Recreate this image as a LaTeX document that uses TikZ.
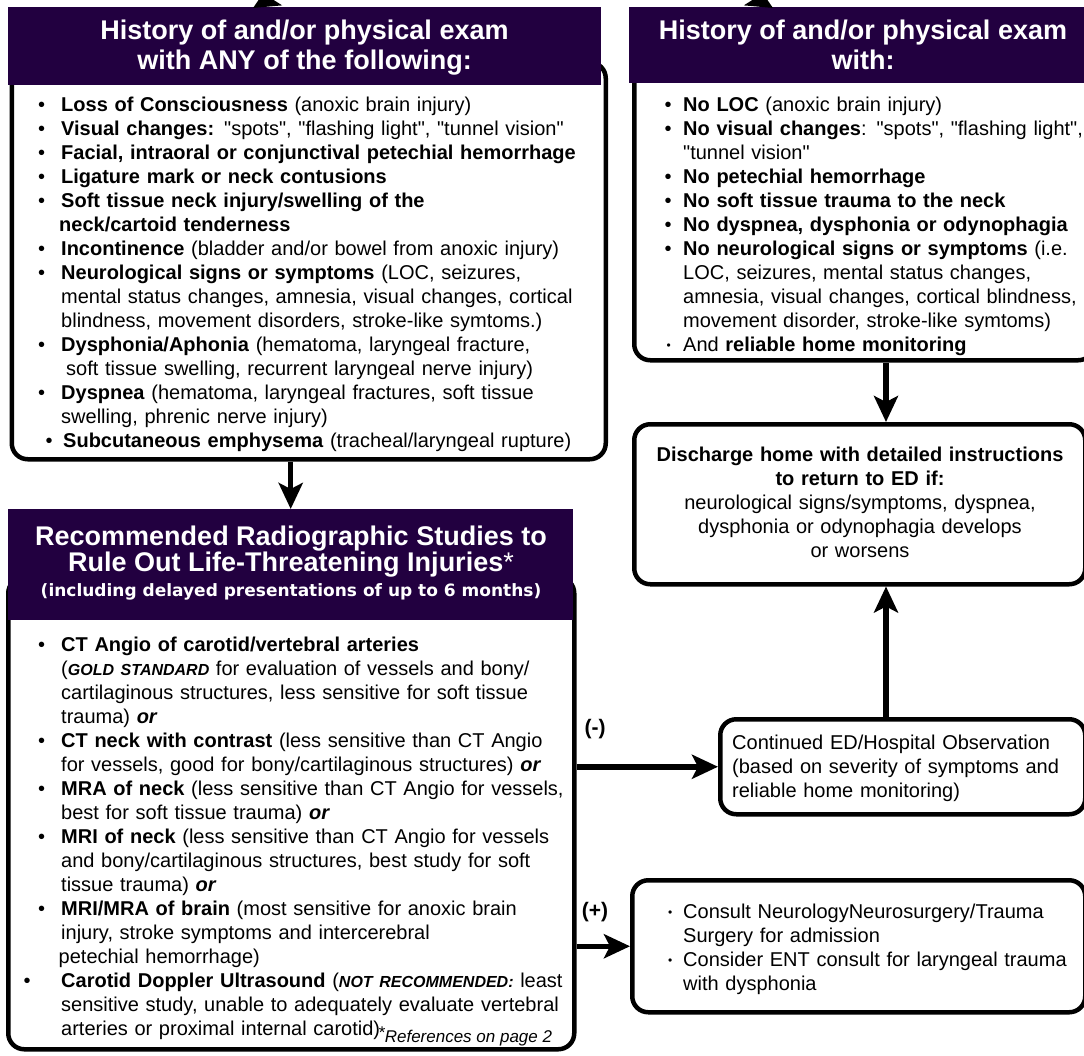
\documentclass[tikz,border=0pt]{standalone}
\usepackage{fontspec}
\setmainfont{Liberation Sans}[Ligatures=TeXOff]
\newfontfamily\dejavu{DejaVu Sans}
\usetikzlibrary{arrows.meta}
\definecolor{hdr}{RGB}{34,0,64}
\newcommand\bu{\makebox[23pt][l]{•}}
\newcommand\ci{\hspace*{23pt}}
\newcommand\bur{\makebox[18.5pt][l]{•}}
\newcommand\cir{\hspace*{18.5pt}}
\newcommand\sbu{\makebox[18pt][l]{\hspace*{3pt}\raisebox{1.5pt}{\fontsize{12}{12}\selectfont •}}}
\newcommand\emi[1]{\textbf{\textit{\fontsize{16}{24}\selectfont #1}}}
\tikzset{
  boxline/.style={draw=black, line width=4.5pt, fill=white, rounded corners=16pt, inner sep=0pt, anchor=north west},
  hdrbox/.style={fill=hdr, draw=none, inner sep=0pt, anchor=north west},
  conn/.style={line width=5.5pt, -{Stealth[length=26pt,width=24pt,inset=6pt]}},
  bodytext/.style={inner sep=0pt, anchor=north west, align=left, font=\fontsize{20}{24}\selectfont, text width=#1},
  hdrtext/.style={text=white, inner sep=0pt, anchor=base, font=\bfseries\fontsize{27}{30}\selectfont},
  lbl/.style={inner sep=0pt, font=\bfseries\fontsize{21}{24}\selectfont},
}
\begin{document}
\begin{tikzpicture}[x=1pt,y=-1pt]
\useasboundingbox (0,0) rectangle (1084,1055);
\clip (0,0) rectangle (1084,1055);
% boxes
\node[boxline, minimum width=594pt, minimum height=397pt] (tlbox) at (9.5,60) {};
\node[boxline, minimum width=460pt, minimum height=298pt] (trbox) at (632,60) {};
\node[boxline, minimum width=566pt, minimum height=472pt] (blbox) at (6,575) {};
\node[boxline, minimum width=451pt, minimum height=160pt] (dis) at (632,422) {};
\node[boxline, minimum width=365pt, minimum height=95pt] (obs) at (718,717) {};
\node[boxline, minimum width=453pt, minimum height=132pt] (cons) at (630,878) {};
% headers
\node[hdrbox, minimum width=593pt, minimum height=78pt] (tlhead) at (8,7) {};
\node[hdrbox, minimum width=470pt, minimum height=76pt] (trhead) at (629,7) {};
\node[hdrbox, minimum width=565pt, minimum height=111pt] (blhead) at (8,509) {};
\node[hdrtext] (tlh1) at (304.5,39) {History of and/or physical exam};
\node[hdrtext] (tlh2) at (304.5,69) {with ANY of the following:};
\node[hdrtext] (trh1) at (863,39) {History of and/or physical exam};
\node[hdrtext] (trh2) at (863,69) {with:};
\node[hdrtext] (blh1) at (291,545) {Recommended Radiographic Studies to};
\node[hdrtext] (blh2) at (291,571) {Rule Out Life-Threatening Injuries{\mdseries*}};
\node[hdrtext, font=\dejavu\bfseries\fontsize{17}{20}\selectfont] (blh3) at (291,596) {(including delayed presentations of up to 6 months)};
% body texts
\node[bodytext=560pt] (tltext) at (38,94.2) {\strut\bu\textbf{Loss of Consciousness} (anoxic brain injury)\\
\bu\textbf{Visual changes:} "spots", "flashing light", "tunnel vision"\\
\bu\textbf{Facial, intraoral or conjunctival petechial hemorrhage}\\
\bu\textbf{Ligature mark or neck contusions}\\
\bu\textbf{Soft tissue neck injury/swelling of the}\\
\hspace*{21pt}\textbf{neck/cartoid tenderness}\\
\bu\textbf{Incontinence} (bladder and/or bowel from anoxic injury)\\
\bu\textbf{Neurological signs or symptoms} (LOC, seizures,\\
\ci mental status changes, amnesia, visual changes, cortical\\
\ci blindness, movement disorders, stroke-like symtoms.)\\
\bu\textbf{Dysphonia/Aphonia} (hematoma, laryngeal fracture,\\
\hspace*{28pt}soft tissue swelling, recurrent laryngeal nerve injury)\\
\bu\textbf{Dyspnea} (hematoma, laryngeal fractures, soft tissue\\
\ci swelling, phrenic nerve injury)\\
\hspace*{7.5pt}\makebox[17.5pt][l]{•}\textbf{Subcutaneous emphysema} (tracheal/laryngeal rupture)};
\node[bodytext=440pt] (trtext) at (664.5,94.2) {\strut\bur\textbf{No LOC} (anoxic brain injury)\\
\bur\textbf{No visual changes}: "spots", "flashing light",\\
\cir"tunnel vision"\\
\bur\textbf{No petechial hemorrhage}\\
\bur\textbf{No soft tissue trauma to the neck}\\
\bur\textbf{No dyspnea, dysphonia or odynophagia}\\
\bur\textbf{No neurological signs or symptoms} (i.e.\\
\cir LOC, seizures, mental status changes,\\
\cir amnesia, visual changes, cortical blindness,\\
\cir movement disorder, stroke-like symtoms)\\
\makebox[18.5pt][l]{\hspace*{2pt}\raisebox{1.5pt}{\fontsize{12}{12}\selectfont •}}And \textbf{reliable home monitoring}};
\node[bodytext=530pt] (bltext) at (38,634.2) {\strut\bu\textbf{CT Angio of carotid/vertebral arteries}\\
\ci(\emi{GOLD STANDARD} for evaluation of vessels and bony/\\
\ci cartilaginous structures, less sensitive for soft tissue\\
\ci trauma) \textbf{\textit{or}}\\
\bu\textbf{CT neck with contrast} (less sensitive than CT Angio\\
\ci for vessels, good for bony/cartilaginous structures) \textbf{\textit{or}}\\
\bu\textbf{MRA of neck} (less sensitive than CT Angio for vessels,\\
\ci best for soft tissue trauma) \textbf{\textit{or}}\\
\bu\textbf{MRI of neck} (less sensitive than CT Angio for vessels\\
\ci and bony/cartilaginous structures, best study for soft\\
\ci tissue trauma) \textbf{\textit{or}}\\
\bu\textbf{MRI/MRA of brain} (most sensitive for anoxic brain\\
\ci injury, stroke symptoms and intercerebral\\
\hspace*{20.5pt}petechial hemorrhage)\\
\hspace*{-14.5pt}\makebox[37.5pt][l]{•}\textbf{Carotid Doppler Ultrasound} (\emi{NOT RECOMMENDED:} least\\
\ci sensitive study, unable to adequately evaluate vertebral\\
\ci arteries or proximal internal carotid)};
\node[inner sep=0pt, anchor=base west, font=\itshape\fontsize{17}{20}\selectfont] (refs) at (378,1042) {\raisebox{4pt}{*}References on page 2};
\node[inner sep=0pt, anchor=north, align=center, text width=440pt, font=\fontsize{20}{24}\selectfont] (distext) at (860,444.2) {\strut\textbf{Discharge home with detailed instructions}\\
\textbf{to return to ED if:}\\
neurological signs/symptoms, dyspnea,\\
dysphonia or odynophagia develops\\
or worsens};
\node[bodytext=345pt] (obstext) at (732,732.2) {\strut Continued ED/Hospital Observation\\
(based on severity of symptoms and\\
reliable home monitoring)};
\node[bodytext=415pt] (constext) at (665,901.2) {\strut\sbu Consult NeurologyNeurosurgery/Trauma\\
\hspace*{18pt}Surgery for admission\\
\sbu Consider ENT consult for laryngeal trauma\\
\hspace*{18pt}with dysphonia};
% connectors
\coordinate (rx) at (886,0);
\coordinate (tA) at (318,-30);
\coordinate (tAe) at (253,8);
\coordinate (tB) at (708,-30);
\coordinate (tBe) at (773,8);
\draw[conn] (tA) -- (tAe);
\draw[conn] (tB) -- (tBe);
\draw[conn] (blhead.north |- tlbox.south) -- (blhead.north);
\draw[conn] (rx |- trbox.south) -- (rx |- dis.north);
\draw[conn] (rx |- obs.north) -- (rx |- dis.south);
\draw[conn] (blbox.east |- obs.west) -- (obs.west);
\draw[conn] (blbox.east |- cons.west) -- (cons.west);
\node[lbl] (minus) at (595,729) {(-)};
\node[lbl] (plus) at (595,912) {(+)};
\end{tikzpicture}
\end{document}
